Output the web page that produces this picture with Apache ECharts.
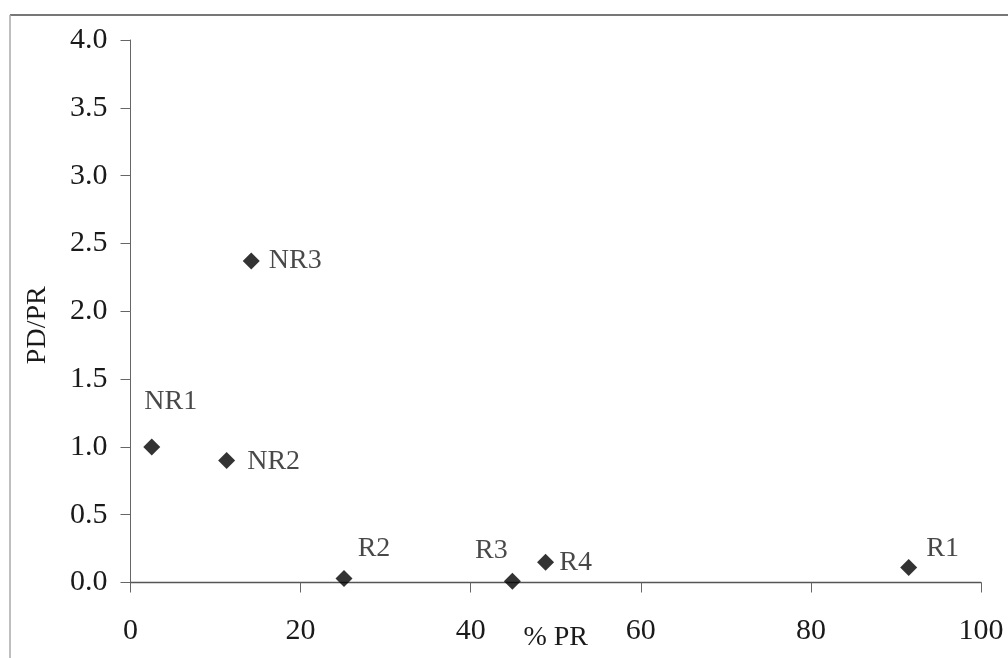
<!DOCTYPE html>
<html>
<head>
<meta charset="utf-8">
<script src="https://cdn.jsdelivr.net/npm/echarts@6/dist/echarts.min.js"></script>
<style>
html,body{margin:0;padding:0;background:#fff;overflow:hidden;}
#chart{width:1008px;height:658px;}
</style>
</head>
<body>
<div id="chart"></div>
<script>
// ---- data ----
var pointNames = ['NR1', 'NR2', 'NR3', 'R2', 'R3', 'R4', 'R1'];
var pctPR = [2.5, 11.3, 14.2, 25.1, 44.9, 48.8, 91.5];
var pdOverPR = [1.0, 0.90, 2.37, 0.03, 0.01, 0.15, 0.11];
var xTicks = [0, 20, 40, 60, 80, 100];
var yTicks = [0.0, 0.5, 1.0, 1.5, 2.0, 2.5, 3.0, 3.5, 4.0];
var xTitle = '% PR';
var yTitle = 'PD/PR';

// ---- label placement (styling) ----
var labelOffset = {
  NR1: [19, -45], NR2: [47, 1], NR3: [44, 0],
  R2: [30, -30], R3: [-21, -31], R4: [30, 0], R1: [34, -19]
};

var FONT = '"Liberation Serif", "DejaVu Serif", serif';
var TXT = '#1a1a1a';

var seriesData = pointNames.map(function (n, i) {
  return {
    name: n,
    value: [pctPR[i], pdOverPR[i]],
    label: { offset: labelOffset[n] }
  };
});

var chart = echarts.init(document.getElementById('chart'));
chart.setOption({
  animation: false,
  backgroundColor: '#fff',
  grid: { left: 130.5, right: 27, top: 40, bottom: 75.5, containLabel: false, outerBoundsMode: 'none' },
  xAxis: {
    type: 'value',
    min: xTicks[0], max: xTicks[xTicks.length - 1], interval: 20,
    name: xTitle, nameLocation: 'middle', nameGap: 41, nameMoveOverlap: false,
    nameTextStyle: { fontFamily: FONT, fontSize: 28, color: TXT },
    axisLine: { show: true, onZero: false, lineStyle: { color: '#555', width: 1.3 } },
    axisTick: { show: true, inside: false, length: 10, lineStyle: { color: '#666' } },
    axisLabel: { margin: 34, fontFamily: FONT, fontSize: 30, color: TXT,
      formatter: function (v) { return String(v); } },
    splitLine: { show: false }
  },
  yAxis: {
    type: 'value',
    min: yTicks[0], max: yTicks[yTicks.length - 1], interval: 0.5,
    name: yTitle, nameLocation: 'middle', nameGap: 79, nameMoveOverlap: false,
    nameTextStyle: { fontFamily: FONT, fontSize: 28, color: TXT, padding: [0, 28, 0, 0] },
    axisLine: { show: true, lineStyle: { color: '#666', width: 1 } },
    axisTick: { show: true, inside: false, length: 10, lineStyle: { color: '#666' } },
    axisLabel: { margin: 23, fontFamily: FONT, fontSize: 30, color: TXT,
      formatter: function (v) { return v.toFixed(1); } },
    splitLine: { show: false }
  },
  graphic: [
    { type: 'line', shape: { x1: 10, y1: 15, x2: 1008, y2: 15 },
      style: { stroke: '#777', lineWidth: 2 }, silent: true },
    { type: 'line', shape: { x1: 10, y1: 15, x2: 10, y2: 658 },
      style: { stroke: '#aaa', lineWidth: 1.5 }, silent: true }
  ],
  series: [{
    type: 'scatter',
    symbol: 'diamond',
    symbolSize: 17,
    itemStyle: { color: '#000' },
    label: {
      show: true, position: 'inside',
      formatter: function (p) { return p.name; },
      fontFamily: FONT, fontSize: 28, color: TXT
    },
    data: seriesData
  }]
});
</script>
</body>
</html>
